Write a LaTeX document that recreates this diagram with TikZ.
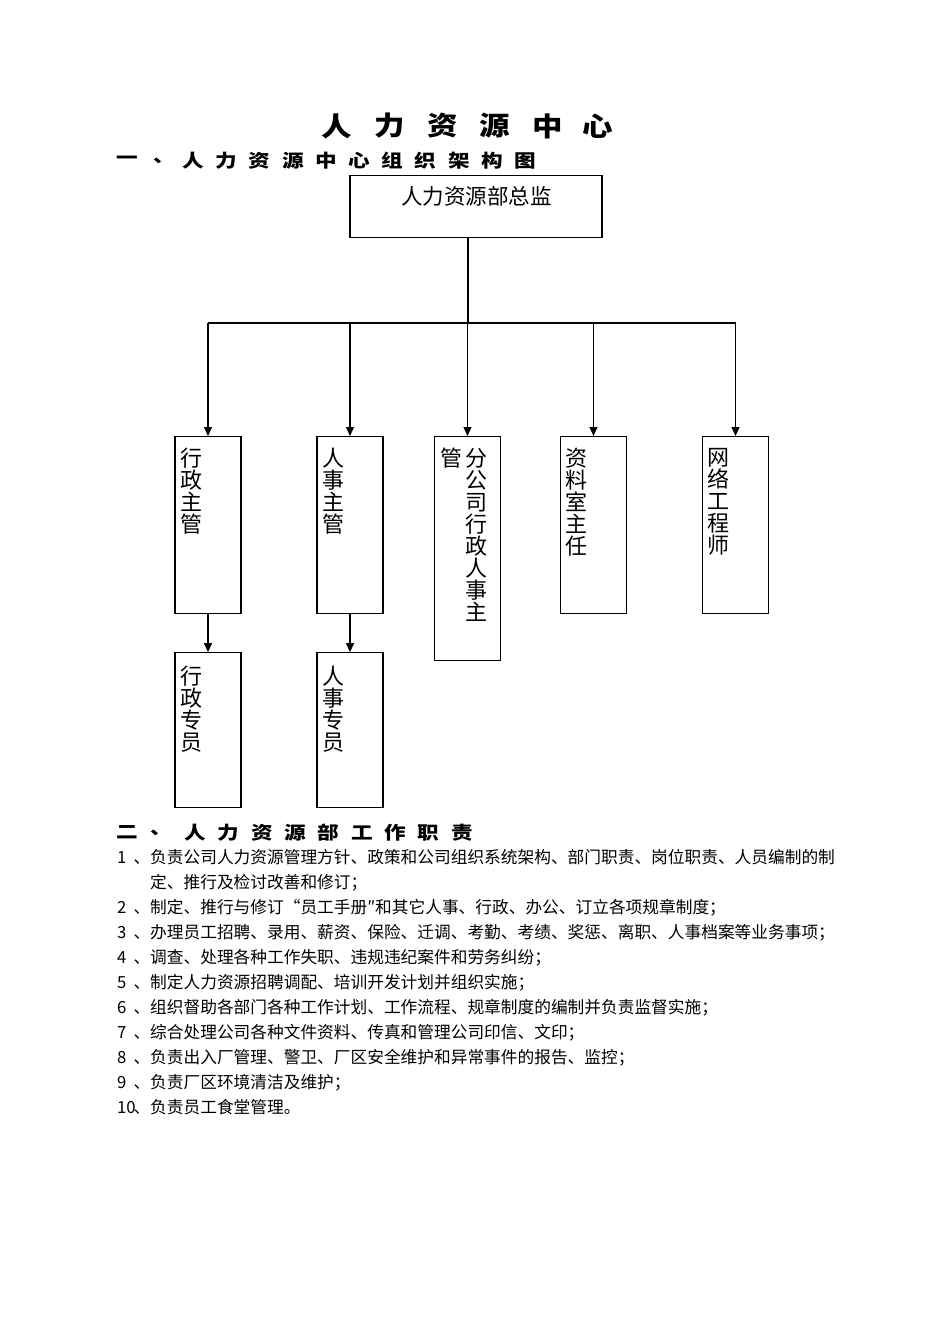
\documentclass[tikz,border=0pt]{standalone}
\usepackage{fontspec}
\usepackage{tikz}
\usetikzlibrary{arrows.meta,positioning}
\newfontfamily\cjk{Noto Sans CJK SC}
\newfontfamily\cjkwide{Noto Sans CJK SC}[FakeStretch=1.2]
\newfontfamily\cjktitle{Noto Sans CJK SC}[FakeStretch=1.15]

\begin{document}
\begin{tikzpicture}[x=1pt, y=-1pt, node distance=38pt]
  \tikzstyle{post}=[draw, line width=1.1pt, minimum width=66pt, minimum height=177pt, anchor=north, inner sep=0pt]
  \tikzstyle{vtext}=[font=\cjk\fontsize{22}{22}\selectfont, align=center, inner sep=0pt]
  \tikzstyle{duty}=[font=\cjk\fontsize{16.7}{20}\selectfont, anchor=west, inner sep=0pt]
  \tikzstyle{head}=[font=\cjkwide\bfseries\fontsize{18}{20}\selectfont, anchor=west, inner sep=0pt]
  \tikzstyle{title}=[font=\cjktitle\bfseries\fontsize{26.5}{30}\selectfont, anchor=west, inner sep=0pt]
  \tikzstyle{arr}=[line width=1.1pt, -{Triangle[length=9pt, width=8pt]}]
  \path[use as bounding box, fill=white] (0,0) rectangle (950,1344);

  \foreach \c/\x [count=\i] in {人/321, 力/374, 资/427, 源/479, 中/532, 心/582}
    \node[title] (title\i) at (\x,126) {\c};
  \foreach \c/\x [count=\i] in {一/116, 、/153, 人/182, 力/215, 资/248, 源/282, 中/315, 心/348, 组/381, 织/414, 架/448, 构/481, 图/514}
    \node[head] (headA\i) at (\x,160.5) {\c};

  \node[post, minimum width=252pt, minimum height=62pt] (chief) at (476,174.5) {};
  \node[font=\cjk\fontsize{21.5}{24}\selectfont] (chieftext) at (476.5,196) {人力资源部总监};
  \node[post] (xzzg) at (208,436) {};
  \node[post] (rszg) at (350,436) {};
  \node[post, minimum height=224pt] (fgs) at (467.5,436) {};
  \node[post] (zlszr) at (593.5,436) {};
  \node[post] (wlgcs) at (735.5,436) {};
  \node[post, minimum height=155pt, below=of xzzg] (xzzy) {};
  \node[post, minimum height=155pt, below=of rszg] (rszy) {};

  \node[vtext, below right=12pt and 5.5pt of xzzg.north west] (xzzgt) {行\\政\\主\\管};
  \node[vtext, below right=12pt and 5.5pt of rszg.north west] (rszgt) {人\\事\\主\\管};
  \node[vtext, below right=12pt and 31.5pt of fgs.north west] (fgst) {分\\公\\司\\行\\政\\人\\事\\主};
  \node[vtext, below right=12pt and 6.5pt of fgs.north west] (fgst2) {管};
  \node[vtext, below right=12pt and 5.5pt of zlszr.north west] (zlszrt) {资\\料\\室\\主\\任};
  \node[vtext, below right=12pt and 5.5pt of wlgcs.north west] (wlgcst) {网\\络\\工\\程\\师};
  \node[vtext, below right=14pt and 6pt of xzzy.north west] (xzzyt) {行\\政\\专\\员};
  \node[vtext, below right=14pt and 6pt of rszy.north west] (rszyt) {人\\事\\专\\员};

  \coordinate (bus) at (468,323);
  \draw[line width=1.1pt] (bus |- chief.south) -- (bus);
  \draw[line width=1.1pt] (xzzg.north |- bus) -- (wlgcs.north |- bus);
  \foreach \n in {xzzg,rszg,fgs,zlszr,wlgcs}
    \draw[arr] (\n.north |- bus) -- (\n.north);
  \draw[arr] (xzzg.south) -- (xzzy.north);
  \draw[arr] (rszg.south) -- (rszy.north);

  \foreach \c/\x [count=\i] in {二/116, 、/150, 人/184, 力/217, 资/251, 源/284, 部/317, 工/351, 作/384, 职/417, 责/451}
    \node[head] (headB\i) at (\x,832.5) {\c};

  \foreach \n/\r/\t in {1/0/、负责公司人力资源管理方针、政策和公司组织系统架构、部门职责、岗位职责、人员编制的制,
      2/2/、制定、推行与修订“员工手册″和其它人事、行政、办公、订立各项规章制度；,
      3/3/、办理员工招聘、录用、薪资、保险、迁调、考勤、考绩、奖惩、离职、人事档案等业务事项；,
      4/4/、调查、处理各种工作失职、违规违纪案件和劳务纠纷；,
      5/5/、制定人力资源招聘调配、培训开发计划并组织实施；,
      6/6/、组织督助各部门各种工作计划、工作流程、规章制度的编制并负责监督实施；,
      7/7/、综合处理公司各种文件资料、传真和管理公司印信、文印；,
      8/8/、负责出入厂管理、警卫、厂区安全维护和异常事件的报告、监控；,
      9/9/、负责厂区环境清洁及维护；,
      10/10/、负责员工食堂管理。}
  {
    \node[duty] (num\n) at (117,857.5+25*\r) {\n};
    \node[duty] (duty\n) at (133.3,857.5+25*\r) {\t};
  }
  \node[duty] (duty1b) at (150,882.5) {定、推行及检讨改善和修订；};
\end{tikzpicture}
\end{document}
